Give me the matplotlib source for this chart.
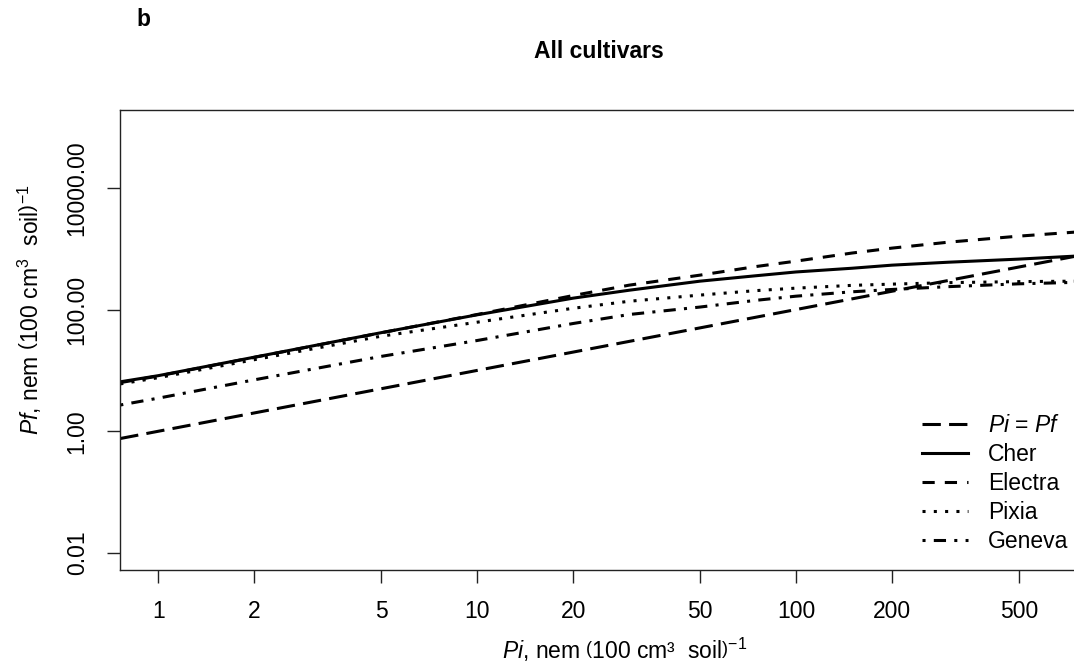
import matplotlib
matplotlib.use("Agg")
import matplotlib.pyplot as plt
from matplotlib.lines import Line2D
from matplotlib.ticker import FixedLocator, NullLocator, FuncFormatter

plt.rcParams['font.family'] = ['Liberation Sans', 'DejaVu Sans']
plt.rcParams['mathtext.fontset'] = 'custom'
plt.rcParams['mathtext.rm'] = 'Liberation Sans'
plt.rcParams['mathtext.it'] = 'Liberation Sans:italic'

pi_points = [0.76, 1, 2, 5, 10, 20, 30, 50, 75, 100, 150, 200, 300, 500, 750]
cher = [6.5, 8.2, 16.5, 41.7, 82, 154, 208, 293, 360, 415, 478, 537, 600, 675, 756]
electra = [6.3, 8.1, 16.4, 41.5, 83, 170, 252, 368, 510, 625, 850, 1023, 1280, 1611, 1875]
pixia = [6.0, 7.6, 15.0, 36.5, 62, 105, 137, 173, 205, 225, 250, 262, 277, 288, 293]
geneva = [2.7, 3.5, 7.0, 17, 31, 59, 83, 110, 142, 166, 196, 214, 238, 265, 280]
# equilibrium line Pi = Pf
one_to_one = [0.76, 750]

x_ticks = [1, 2, 5, 10, 20, 50, 100, 200, 500]
y_ticks = [0.01, 1, 100, 10000]

FS = 16.5
LW = 2.2

fig = plt.figure(figsize=(10.74, 6.70), dpi=100)
ax = fig.add_axes([120 / 1074, 100 / 670, 1033 / 1074, 460 / 670])
ax.set_xscale('log')
ax.set_yscale('log')

styles = {
    'pipf': dict(ls=(0, (6, 2.7))),
    'cher': dict(ls='-'),
    'electra': dict(ls=(0, (4, 3.3))),
    'pixia': dict(ls=(0, (1, 2.7))),
    'geneva': dict(ls=(0, (1, 2.7, 4, 2.7))),
}

ax.plot(one_to_one, one_to_one, color='black', lw=LW, **styles['pipf'])
ax.plot(pi_points, cher, color='black', lw=LW, **styles['cher'])
ax.plot(pi_points, electra, color='black', lw=LW, **styles['electra'])
ax.plot(pi_points, pixia, color='black', lw=LW, **styles['pixia'])
ax.plot(pi_points, geneva, color='black', lw=LW, **styles['geneva'])

ax.set_xlim(10 ** -0.12, 10 ** 3.12)
ax.set_ylim(10 ** -2.28, 10 ** 5.28)

ax.xaxis.set_major_locator(FixedLocator(x_ticks))
ax.xaxis.set_minor_locator(NullLocator())
ax.xaxis.set_major_formatter(FuncFormatter(lambda v, p: f'{v:g}'))
ax.yaxis.set_major_locator(FixedLocator(y_ticks))
ax.yaxis.set_minor_locator(NullLocator())
ax.yaxis.set_major_formatter(FuncFormatter(lambda v, p: f'{v:.2f}'))

ax.tick_params(axis='both', direction='out', length=9.5, width=1.0,
               labelsize=FS, color='#222222')
ax.tick_params(axis='x', pad=12)
ax.tick_params(axis='y', pad=13)
for lab in ax.get_yticklabels():
    lab.set_rotation(90)
    lab.set_va('center')

for sp in ax.spines.values():
    sp.set_linewidth(1.0)
    sp.set_color('#222222')

fig.text(625 / 1074, 1 - 650 / 670,
         r'$\mathit{Pi}$, nem $\left(\mathrm{100\ cm³\ \ soil}\right)^{-1}$',
         ha='center', va='center', fontsize=FS)
fig.text(30 / 1074, 1 - 310 / 670,
         r'$\mathit{Pf}$, nem $\left(\mathrm{100\ cm^{3}\ \ soil}\right)^{-1}$',
         ha='center', va='center', rotation=90, fontsize=FS)

fig.text(599 / 1074, 1 - 52 / 670, 'All cultivars', ha='center', va='center',
         fontsize=FS, fontweight='bold')
fig.text(143 / 1074, 1 - 20 / 670, 'b', ha='center', va='center',
         fontsize=FS, fontweight='bold')

labels = [r'$\mathit{Pi}$ = $\mathit{Pf}$', 'Cher', 'Electra', 'Pixia', 'Geneva']
handles = [Line2D([], [], color='black', lw=LW, **styles[k])
           for k in ['pipf', 'cher', 'electra', 'pixia', 'geneva']]
ax.legend(handles, labels, loc='upper left',
          bbox_to_anchor=(922 / 1074, 1 - 414 / 670), bbox_transform=fig.transFigure,
          frameon=False, fontsize=FS, handlelength=2.0, handletextpad=0.87,
          labelspacing=0.26, borderpad=0, borderaxespad=0)

fig.savefig('out.png', dpi=100)
